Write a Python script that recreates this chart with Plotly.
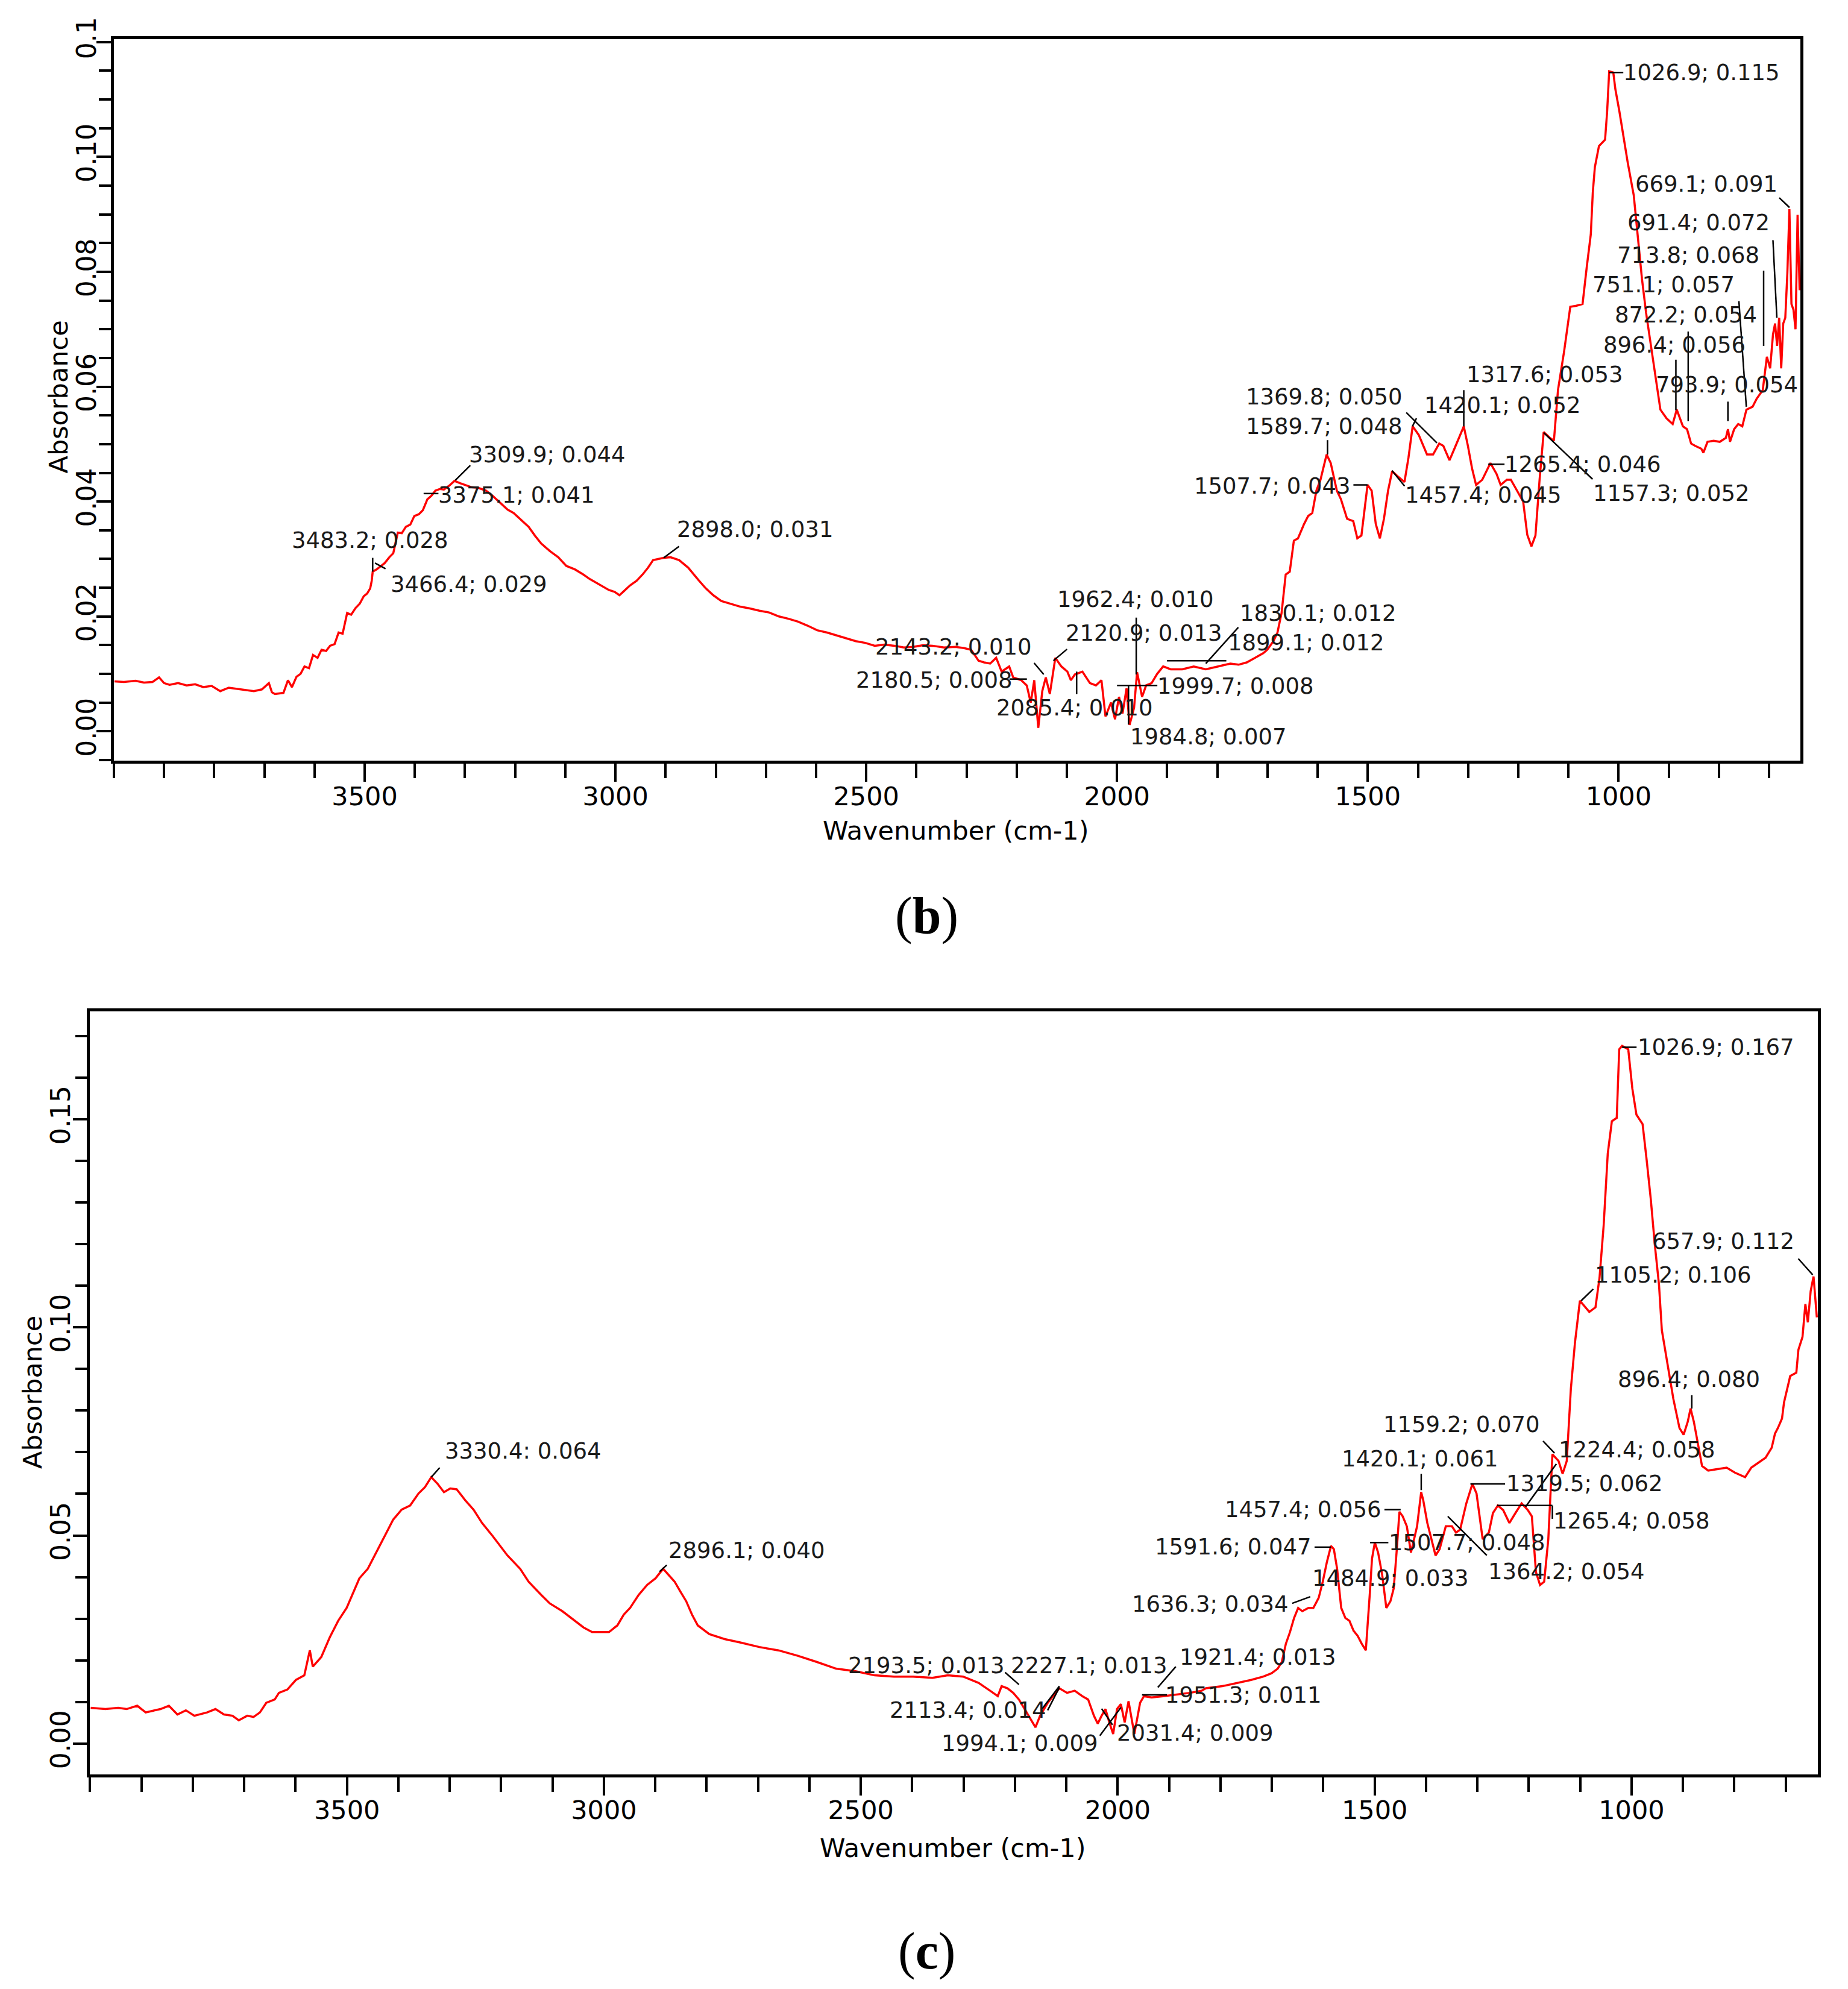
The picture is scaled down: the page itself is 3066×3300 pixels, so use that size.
import plotly.graph_objects as go

# ---------------- data: panel (b) ----------------
B_WN = [3999, 3980, 3957, 3940, 3923, 3910, 3900, 3889, 3872, 3855, 3838, 3822, 3805, 3788, 3771, 3754,
        3737, 3721, 3705, 3691, 3685, 3679, 3662, 3653, 3645, 3636, 3628, 3620, 3611, 3603, 3594, 3586,
        3577, 3569, 3560, 3552, 3544, 3535, 3527, 3518, 3510, 3502, 3495, 3489, 3486, 3484, 3476, 3468,
        3460, 3451, 3443, 3434, 3426, 3418, 3409, 3401, 3392, 3384, 3375, 3367, 3359, 3350, 3342, 3331,
        3321, 3310, 3300, 3287, 3274, 3258, 3245, 3232, 3215, 3203, 3190, 3173, 3160, 3148, 3131, 3114,
        3098, 3081, 3064, 3051, 3039, 3026, 3013, 3002, 2992, 2982, 2971, 2958, 2946, 2935, 2925, 2904,
        2890, 2873, 2855, 2835, 2820, 2805, 2789, 2770, 2751, 2732, 2713, 2694, 2674, 2655, 2636, 2617,
        2598, 2578, 2559, 2540, 2521, 2502, 2483, 2464, 2444, 2425, 2406, 2387, 2368, 2345, 2322, 2305,
        2291, 2276, 2265, 2253, 2241, 2230, 2215, 2207, 2191, 2180, 2172, 2165, 2157, 2149, 2142, 2134,
        2123, 2111, 2099, 2092, 2084, 2069, 2061, 2054, 2042, 2031, 2023, 2012, 2004, 1996, 1989, 1981,
        1975, 1966, 1960, 1950, 1942, 1931, 1920, 1908, 1893, 1870, 1847,
        1823.0, 1798.5, 1774.0, 1757.6, 1741.3, 1725.0, 1708.6, 1700.5, 1688.2, 1680.1, 1671.9, 1663.7,
        1655.6, 1647.4, 1639.2, 1627.0, 1618.8, 1610.7, 1602.5, 1594.3, 1582.1, 1573.9, 1561.7, 1553.5,
        1541.3, 1529.0, 1520.9, 1512.7, 1500.5, 1492.3, 1484.1, 1475.9, 1467.8, 1459.6, 1451.4, 1439.2,
        1426.9, 1418.8, 1410.6, 1398.4, 1382.0, 1369.8, 1357.6, 1349.4, 1337.1, 1324.9, 1308.6, 1300.4,
        1292.2, 1284.1, 1271.8, 1255.5, 1243.2, 1235.1, 1222.8, 1214.7, 1202.4, 1190.2, 1182.0, 1173.8,
        1165.7, 1157.5, 1149.3, 1137.1, 1128.9, 1120.8, 1108.5, 1100.4, 1096.3, 1084.0, 1071.8, 1063.6,
        1055.4, 1051.4, 1047.3, 1039.1, 1026.9, 1022.8, 1018.7, 1010.5, 1006.4, 998.3, 990.1, 981.9,
        969.7, 961.5, 953.4, 945.2, 937.0, 928.9, 924.8, 916.6, 904.4, 892.1, 884.0, 871.7,
        863.5, 855.4, 847.2, 835.0, 830.9, 822.7, 810.5, 798.2, 786.0, 781.9, 777.8, 769.6,
        761.4, 753.3, 745.1, 732.9, 724.7, 712.5, 704.3, 697.8, 692.1, 688.0, 683.9, 679.8,
        675.7, 671.7, 667.6, 663.5, 659.4, 655.3, 651.3, 647.2, 643.1, 639.0]
B_ABS = [0.0087, 0.0086, 0.0088, 0.0085, 0.0086, 0.0094, 0.0084, 0.0081, 0.0084, 0.0080, 0.0082, 0.0077, 0.0079, 0.0070, 0.0076, 0.0074,
         0.0072, 0.0070, 0.0073, 0.0084, 0.0068, 0.0065, 0.0067, 0.0089, 0.0077, 0.0095, 0.0100, 0.0113, 0.0110, 0.0133, 0.0128, 0.0142,
         0.0140, 0.0149, 0.0152, 0.0172, 0.0170, 0.0206, 0.0203, 0.0215, 0.0222, 0.0235, 0.0240, 0.0249, 0.0262, 0.0278, 0.0282, 0.0288,
         0.0293, 0.0303, 0.0310, 0.0346, 0.0345, 0.0356, 0.0360, 0.0375, 0.0378, 0.0385, 0.0404, 0.0410, 0.0419, 0.0422, 0.0421, 0.0428,
         0.0436, 0.0432, 0.0429, 0.0425, 0.0424, 0.0419, 0.0410, 0.0400, 0.0386, 0.0380, 0.0370, 0.0356, 0.0340, 0.0327, 0.0314, 0.0303,
         0.0288, 0.0282, 0.0273, 0.0265, 0.0259, 0.0252, 0.0246, 0.0243, 0.0237, 0.0245, 0.0254, 0.0262, 0.0273, 0.0285, 0.0298, 0.0302,
         0.0303, 0.0298, 0.0285, 0.0264, 0.0249, 0.0237, 0.0227, 0.0222, 0.0217, 0.0214, 0.0210, 0.0207, 0.0200, 0.0196, 0.0191, 0.0184,
         0.0176, 0.0172, 0.0167, 0.0162, 0.0157, 0.0154, 0.0149, 0.0151, 0.0149, 0.0146, 0.0147, 0.0150, 0.0149, 0.0146, 0.0147, 0.0145,
         0.0142, 0.0123, 0.0120, 0.0118, 0.0128, 0.0104, 0.0113, 0.0094, 0.0089, 0.0080, 0.0050, 0.0089, 0.0006, 0.0070, 0.0094, 0.0065,
         0.0128, 0.0113, 0.0104, 0.0089, 0.0099, 0.0104, 0.0094, 0.0084, 0.0080, 0.0089, 0.0026, 0.0050, 0.0021, 0.0060, 0.0031, 0.0075,
         0.0011, 0.0041, 0.0103, 0.0060, 0.0080, 0.0084, 0.0100, 0.0113, 0.0108, 0.0108, 0.0113,
         0.0108, 0.0113, 0.0118, 0.0116, 0.0120, 0.0128, 0.0136, 0.0142, 0.0157, 0.0172, 0.0206, 0.0273,
         0.0278, 0.0332, 0.0336, 0.0361, 0.0375, 0.0380, 0.0419, 0.0438, 0.0482, 0.0467, 0.0419, 0.0404,
         0.0370, 0.0366, 0.0336, 0.0341, 0.0429, 0.0419, 0.0361, 0.0336, 0.0370, 0.0419, 0.0453, 0.0443,
         0.0434, 0.0477, 0.0531, 0.0516, 0.0482, 0.0482, 0.0501, 0.0497, 0.0472, 0.0497, 0.0531, 0.0497,
         0.0458, 0.0429, 0.0438, 0.0467, 0.0448, 0.0429, 0.0438, 0.0438, 0.0419, 0.0400, 0.0342, 0.0322,
         0.0341, 0.0438, 0.0521, 0.0511, 0.0506, 0.0594, 0.0662, 0.0710, 0.0739, 0.0741, 0.0744, 0.0807,
         0.0865, 0.0938, 0.0982, 0.1019, 0.1030, 0.1079, 0.1149, 0.1147, 0.1118, 0.1079, 0.1035, 0.0991,
         0.0933, 0.0856, 0.0788, 0.0729, 0.0681, 0.0632, 0.0613, 0.0560, 0.0545, 0.0535, 0.0560, 0.0531,
         0.0526, 0.0501, 0.0497, 0.0492, 0.0485, 0.0504, 0.0506, 0.0504, 0.0511, 0.0526, 0.0504, 0.0526,
         0.0535, 0.0531, 0.0560, 0.0565, 0.0579, 0.0594, 0.0652, 0.0632, 0.0691, 0.0710, 0.0671, 0.0720,
         0.0632, 0.0710, 0.0720, 0.0797, 0.0909, 0.0744, 0.0734, 0.0700, 0.0899, 0.0768]

# ---------------- data: panel (c) ----------------
C_WN = [3998.8, 3970.0, 3945.3, 3928.8, 3908.2, 3891.7, 3862.9, 3846.5, 3830.0, 3813.5, 3797.0, 3772.3,
        3755.9, 3739.4, 3722.9, 3710.6, 3694.1, 3681.8, 3669.4, 3657.1, 3640.6, 3632.4, 3615.9, 3599.4,
        3583.0, 3572.3, 3566.5, 3550.0, 3533.6, 3517.1, 3500.6, 3492.4, 3475.9, 3459.5, 3443.0, 3426.5,
        3410.1, 3393.6, 3377.1, 3360.7, 3348.3, 3336.0, 3323.6, 3311.2, 3299.0, 3286.5, 3270.1, 3253.6,
        3237.1, 3216.7, 3187.7, 3163.0, 3146.6, 3121.9, 3105.4, 3080.7, 3064.2, 3039.5, 3023.0, 3006.6,
        2990.1, 2973.7, 2961.3, 2949.0, 2932.5, 2916.0, 2899.6,
        2884.7, 2873.5, 2862.3, 2851.0, 2839.8, 2828.6, 2817.3, 2794.9, 2764.9, 2735.0, 2697.6, 2660.1,
        2622.7, 2585.3, 2547.9, 2510.4, 2473.0, 2435.6, 2398.2, 2360.7, 2330.8, 2300.8, 2270.9, 2248.4,
        2233.5, 2226.0, 2214.7, 2203.5, 2192.3, 2181.1, 2169.9, 2160.1, 2151.1, 2136.2, 2121.2, 2113.7,
        2098.7, 2083.8, 2068.8, 2057.6, 2046.4, 2038.9, 2031.4, 2023.9, 2016.4, 2008.9, 2001.4, 1993.9,
        1986.5, 1979.0, 1967.7, 1956.5, 1949.0, 1934.1, 1911.6, 1889.2, 1859.2, 1836.8,
        1828.4, 1796.5, 1764.6, 1740.6, 1716.7, 1700.7, 1688.8, 1680.8, 1672.8, 1664.8, 1656.8, 1648.9,
        1640.9, 1628.9, 1619.3, 1609.0, 1601.0, 1593.0, 1585.0, 1579.4, 1573.1, 1565.1, 1557.1, 1549.1,
        1541.1, 1533.2, 1525.2, 1517.2, 1509.2, 1505.2, 1499.7, 1493.3, 1485.3, 1477.3, 1469.3, 1462.9,
        1457.4, 1451.8, 1445.4, 1437.4, 1429.4, 1423.0, 1417.5, 1409.5, 1405.5, 1397.5, 1389.5, 1381.5,
        1373.6, 1361.6, 1349.6, 1341.7, 1333.7, 1321.7, 1309.8, 1301.8, 1289.8, 1277.8, 1269.8, 1260.3,
        1249.9, 1237.9, 1226.0, 1214.0, 1202.0, 1194.1, 1186.1, 1178.1, 1170.1, 1162.1, 1154.1, 1142.2,
        1134.2, 1126.2, 1118.2, 1110.3, 1100.6, 1090.3, 1082.3, 1070.3, 1062.4, 1054.4, 1046.4, 1038.4,
        1028.9, 1024.1, 1018.5, 1006.5, 998.6, 990.6, 978.6, 970.6, 962.6, 954.7, 946.7, 941.1,
        930.7, 918.7, 906.8, 898.8, 890.8, 885.2, 878.8, 870.9, 862.9, 850.9, 831.0, 815.0,
        799.0, 779.1, 767.1, 751.2, 739.2, 727.3, 720.9, 715.3, 707.3, 703.3, 691.3, 679.4,
        675.4, 667.4, 661.8, 657.0, 651.5, 645.9, 639.5]
C_ABS = [0.0086, 0.0083, 0.0086, 0.0083, 0.0091, 0.0075, 0.0083, 0.0091, 0.0070, 0.0080, 0.0067, 0.0075,
         0.0083, 0.0070, 0.0067, 0.0056, 0.0067, 0.0064, 0.0075, 0.0098, 0.0106, 0.0122, 0.0130, 0.0153,
         0.0164, 0.0224, 0.0185, 0.0208, 0.0255, 0.0295, 0.0326, 0.0350, 0.0397, 0.0420, 0.0459, 0.0499,
         0.0538, 0.0562, 0.0572, 0.0601, 0.0616, 0.0640, 0.0624, 0.0604, 0.0613, 0.0611, 0.0585, 0.0562,
         0.0530, 0.0499, 0.0452, 0.0420, 0.0389, 0.0357, 0.0337, 0.0318, 0.0302, 0.0279, 0.0268, 0.0268,
         0.0268, 0.0284, 0.0310, 0.0326, 0.0357, 0.0381, 0.0397,
         0.0420, 0.0405, 0.0389, 0.0365, 0.0342, 0.0310, 0.0284, 0.0263, 0.0251, 0.0243, 0.0232, 0.0224,
         0.0211, 0.0196, 0.0180, 0.0174, 0.0164, 0.0161, 0.0161, 0.0158, 0.0164, 0.0161, 0.0146, 0.0127,
         0.0114, 0.0138, 0.0133, 0.0122, 0.0106, 0.0083, 0.0059, 0.0039, 0.0067, 0.0098, 0.0122, 0.0133,
         0.0122, 0.0127, 0.0114, 0.0106, 0.0067, 0.0048, 0.0067, 0.0083, 0.0051, 0.0023, 0.0083, 0.0095,
         0.0051, 0.0102, 0.0023, 0.0098, 0.0114, 0.0111, 0.0114, 0.0117, 0.0122, 0.0127,
         0.0133, 0.0138, 0.0146, 0.0153, 0.0161, 0.0169, 0.0180, 0.0196, 0.0240, 0.0268, 0.0302, 0.0326,
         0.0318, 0.0326, 0.0326, 0.0350, 0.0389, 0.0436, 0.0475, 0.0467, 0.0420, 0.0326, 0.0302, 0.0295,
         0.0271, 0.0259, 0.0240, 0.0224, 0.0365, 0.0444, 0.0483, 0.0459, 0.0405, 0.0326, 0.0342, 0.0373,
         0.0459, 0.0557, 0.0546, 0.0522, 0.0459, 0.0491, 0.0522, 0.0604, 0.0585, 0.0530, 0.0491, 0.0452,
         0.0467, 0.0522, 0.0522, 0.0507, 0.0514, 0.0577, 0.0624, 0.0601, 0.0491, 0.0507, 0.0554, 0.0572,
         0.0561, 0.0530, 0.0554, 0.0577, 0.0561, 0.0546, 0.0412, 0.0381, 0.0389, 0.0491, 0.0695, 0.0679,
         0.0648, 0.0679, 0.0852, 0.0962, 0.1064, 0.1048, 0.1037, 0.1048, 0.1119, 0.1244, 0.1417, 0.1495,
         0.1503, 0.1668, 0.1676, 0.1668, 0.1574, 0.1511, 0.1488, 0.1401, 0.1307, 0.1197, 0.1103, 0.0993,
         0.0915, 0.0828, 0.0758, 0.0742, 0.0773, 0.0805, 0.0773, 0.0718, 0.0667, 0.0656, 0.0660, 0.0663,
         0.0651, 0.0640, 0.0663, 0.0676, 0.0687, 0.0711, 0.0745, 0.0758, 0.0781, 0.0820, 0.0883, 0.0891,
         0.0946, 0.0977, 0.1056, 0.1012, 0.1087, 0.1122, 0.1024]

# ---------------- peak labels ----------------
B_LABEL_TEXT = ["3309.9; 0.044", "3375.1; 0.041", "3483.2; 0.028", "3466.4; 0.029", "2898.0; 0.031",
                "2143.2; 0.010", "2180.5; 0.008", "2085.4; 0.010", "1962.4; 0.010", "2120.9; 0.013",
                "1984.8; 0.007", "1999.7; 0.008", "1830.1; 0.012", "1899.1; 0.012", "1026.9; 0.115",
                "669.1; 0.091", "691.4; 0.072", "713.8; 0.068", "751.1; 0.057", "872.2; 0.054",
                "896.4; 0.056", "793.9; 0.054", "1317.6; 0.053", "1420.1; 0.052", "1369.8; 0.050",
                "1589.7; 0.048", "1507.7; 0.043", "1457.4; 0.045", "1265.4; 0.046", "1157.3; 0.052"]
C_LABEL_TEXT = ["3330.4: 0.064", "2896.1; 0.040", "2193.5; 0.013", "2227.1; 0.013", "2113.4; 0.014",
                "1994.1; 0.009", "2031.4; 0.009", "1921.4; 0.013", "1951.3; 0.011", "1636.3; 0.034",
                "1591.6; 0.047", "1457.4; 0.056", "1507.7; 0.048", "1484.9; 0.033", "1420.1; 0.061",
                "1159.2; 0.070", "1319.5; 0.062", "1224.4; 0.058", "1265.4; 0.058", "1364.2; 0.054",
                "1026.9; 0.167", "657.9; 0.112", "1105.2; 0.106", "896.4; 0.080"]

X_TICKS = [1000, 1500, 2000, 2500, 3000, 3500]
B_Y_TICKS = [0.0, 0.02, 0.04, 0.06, 0.08, 0.10, 0.12]
B_Y_TEXT = ["0.00", "0.02", "0.04", "0.06", "0.08", "0.10", "0.1"]
C_Y_TICKS = [0.0, 0.05, 0.10, 0.15]
C_Y_TEXT = ["0.00", "0.05", "0.10", "0.15"]

# ---------------- layout (label placement, leaders) ----------------
B_TEXT_POS = [(3135.7, 0.0482), (3197.0, 0.0411), (3488.8, 0.0332), (3291.9, 0.0256), (2721.8, 0.0351),
              (2326.2, 0.0147), (2364.0, 0.0089), (2084.2, 0.0041), (1963.5, 0.0230), (1946.7, 0.0171),
              (1818.2, -0.0010), (1764.1, 0.0079), (1598.4, 0.0206), (1623.0, 0.0154), (835.1, 0.1147),
              (824.9, 0.0953), (841.1, 0.0885), (861.5, 0.0829), (910.9, 0.0777), (865.7, 0.0725),
              (888.6, 0.0672), (784.1, 0.0603), (1147.4, 0.0621), (1230.8, 0.0568), (1586.4, 0.0582),
              (1586.4, 0.0531), (1690.8, 0.0427), (1269.9, 0.0411), (1071.6, 0.0465), (895.0, 0.0414)]
C_TEXT_POS = [(3157.0, 0.0703), (2722.0, 0.0464), (2371.8, 0.0188), (2056.1, 0.0188), (2291.4, 0.0080),
              (2190.5, 0.0001), (1849.5, 0.0025), (1727.5, 0.0207), (1755.6, 0.0116), (1820.2, 0.0335),
              (1775.6, 0.0472), (1638.7, 0.0562), (1320.2, 0.0483), (1469.2, 0.0397), (1411.7, 0.0684),
              (1330.8, 0.0766), (1091.3, 0.0624), (989.2, 0.0706), (999.8, 0.0535), (1126.5, 0.0413),
              (835.4, 0.1673), (821.4, 0.1206), (918.8, 0.1126), (888.9, 0.0875)]
B_LEADERS = [(3289.4, 0.0463, 3319.4, 0.0437), (3382.5, 0.0414, 3353.0, 0.0414), (3484.1, 0.0302, 3484.1, 0.0278),
             (3479.5, 0.0293, 3458.4, 0.0283), (2873.2, 0.0322, 2903.9, 0.0302), (2165.3, 0.0119, 2146.1, 0.0099),
             (2214.5, 0.0091, 2179.7, 0.0091), (2080.5, 0.0104, 2080.5, 0.0065), (1961.7, 0.0198, 1961.7, 0.0099),
             (2099.7, 0.0143, 2126.8, 0.0123), (1977.1, 0.0080, 1977.1, 0.0012), (2000.0, 0.0080, 1919.6, 0.0080),
             (1758.1, 0.0181, 1823.0, 0.0118), (1900.4, 0.0123, 1782.1, 0.0123), (1018.7, 0.1147, 990.6, 0.1147),
             (679.6, 0.0929, 659.2, 0.0912), (692.2, 0.0855, 684.4, 0.0720), (710.8, 0.0802, 710.8, 0.0671),
             (760.1, 0.0749, 745.3, 0.0565), (861.2, 0.0696, 861.2, 0.0540), (885.7, 0.0647, 885.7, 0.0559),
             (782.0, 0.0574, 782.0, 0.0540), (1308.6, 0.0594, 1308.6, 0.0531), (1403.0, 0.0545, 1411.0, 0.0531),
             (1423.3, 0.0555, 1362.1, 0.0502), (1580.3, 0.0507, 1580.3, 0.0482), (1528.7, 0.0429, 1500.5, 0.0429),
             (1426.6, 0.0427, 1451.8, 0.0454), (1259.8, 0.0465, 1227.4, 0.0465), (1051.9, 0.0439, 1149.3, 0.0520)]
C_LEADERS = [(3319.5, 0.0663, 3336.0, 0.0640), (2877.7, 0.0429, 2891.8, 0.0413), (2219.2, 0.0171, 2192.3, 0.0142),
             (2113.6, 0.0138, 2147.6, 0.0083), (2136.4, 0.0080, 2113.6, 0.0135), (2034.9, 0.0019, 1993.7, 0.0087),
             (2010.3, 0.0045, 2031.4, 0.0084), (1887.0, 0.0185, 1922.0, 0.0135), (1952.8, 0.0117, 1904.1, 0.0117),
             (1660.5, 0.0337, 1625.3, 0.0353), (1617.0, 0.0472, 1585.3, 0.0472), (1481.0, 0.0562, 1449.4, 0.0562),
             (1509.0, 0.0483, 1473.4, 0.0483), (1409.4, 0.0648, 1409.4, 0.0609), (1172.3, 0.0727, 1150.0, 0.0698),
             (1313.7, 0.0624, 1246.2, 0.0624), (1146.4, 0.0672, 1206.3, 0.0569), (1261.9, 0.0572, 1154.2, 0.0572),
             (1154.2, 0.0572, 1154.2, 0.0540), (1281.8, 0.0452, 1357.7, 0.0546), (1018.5, 0.1673, 990.3, 0.1673),
             (675.6, 0.1165, 647.5, 0.1126), (1074.6, 0.1092, 1098.1, 0.1064), (882.9, 0.0837, 882.9, 0.0805)]

W, H = 3066, 3300
RED = "#ff0000"
FONT = "DejaVu Sans"

fig = go.Figure()
fig.add_trace(go.Scatter(x=B_WN, y=B_ABS, mode="lines", line=dict(color=RED, width=3.5),
                         xaxis="x", yaxis="y", showlegend=False))
fig.add_trace(go.Scatter(x=C_WN, y=C_ABS, mode="lines", line=dict(color=RED, width=3.5),
                         xaxis="x2", yaxis="y2", showlegend=False))


def xaxis_cfg(domain, anchor):
    return dict(domain=domain, anchor=anchor, range=[4000, 637.5], tickmode="array",
                tickvals=X_TICKS, ticktext=[str(v) for v in X_TICKS],
                ticks="outside", ticklen=30, tickwidth=4, tickcolor="black",
                minor=dict(tick0=0, dtick=100, ticks="outside", ticklen=24, tickwidth=4, tickcolor="black"),
                showline=True, linewidth=4.5, linecolor="black", mirror=True,
                showgrid=False, zeroline=False, automargin=False, ticklabelstandoff=-12,
                tickfont=dict(family=FONT, size=43, color="black"))


def yaxis_cfg(domain, anchor, rng, tv, tt, minor_dt, standoff):
    return dict(domain=domain, anchor=anchor, range=rng, tickmode="array",
                tickvals=tv, ticktext=tt, tickangle=-90,
                ticks="outside", ticklen=24, tickwidth=4, tickcolor="black",
                minor=dict(tick0=0, dtick=minor_dt, ticks="outside", ticklen=20, tickwidth=4, tickcolor="black"),
                showline=True, linewidth=4.5, linecolor="black", mirror=True,
                showgrid=False, zeroline=False, automargin=False, ticklabelstandoff=standoff,
                tickfont=dict(family=FONT, size=44, color="black"))


fig.update_layout(
    width=W, height=H, margin=dict(l=0, r=0, t=0, b=0, autoexpand=False),
    paper_bgcolor="white", plot_bgcolor="white",
    xaxis=xaxis_cfg([189 / W, 2987 / W], "y"),
    yaxis=yaxis_cfg([1 - 1262 / H, 1 - 65 / H], "x", [-0.0051, 0.1205], B_Y_TICKS, B_Y_TEXT, 0.005, -16),
    xaxis2=xaxis_cfg([149.4 / W, 3016 / W], "y2"),
    yaxis2=yaxis_cfg([1 - 2944 / H, 1 - 1678 / H], "x2", [-0.0074, 0.1759], C_Y_TICKS, C_Y_TEXT, 0.01, -13),
)

annos = []
shapes = []
LABEL_FONT = dict(family=FONT, size=37, color="#1a1a1a")


def add_labels(texts, pos, leaders, xr, yr):
    for t, (x, y) in zip(texts, pos):
        annos.append(dict(x=x, y=y, xref=xr, yref=yr, text=t, showarrow=False,
                          xanchor="center", yanchor="middle", font=LABEL_FONT))
    for (x0, y0, x1, y1) in leaders:
        shapes.append(dict(type="line", xref=xr, yref=yr, x0=x0, y0=y0, x1=x1, y1=y1,
                           line=dict(color="black", width=2.5)))


add_labels(B_LABEL_TEXT, B_TEXT_POS, B_LEADERS, "x", "y")
add_labels(C_LABEL_TEXT, C_TEXT_POS, C_LEADERS, "x2", "y2")

TITLE_FONT = dict(family=FONT, size=43, color="black")
for (px, py, txt, ang) in [(1585, 1378, "Wavenumber (cm-1)", 0), (1580, 3066, "Wavenumber (cm-1)", 0),
                           (96.5, 659, "Absorbance", -90), (54, 2310, "Absorbance", -90)]:
    annos.append(dict(x=px / W, y=1 - py / H, xref="paper", yref="paper", text=txt, textangle=ang,
                      showarrow=False, xanchor="center", yanchor="middle", font=TITLE_FONT))
for (px, py, lab) in [(1537.5, 1519, "b"), (1537, 3237, "c")]:
    annos.append(dict(x=px / W, y=1 - py / H, xref="paper", yref="paper", text="(<b>%s</b>)" % lab,
                      showarrow=False, xanchor="center", yanchor="middle",
                      font=dict(family="Liberation Serif", size=86, color="black")))

fig.update_layout(annotations=annos, shapes=shapes)
fig.write_html("out.html")
